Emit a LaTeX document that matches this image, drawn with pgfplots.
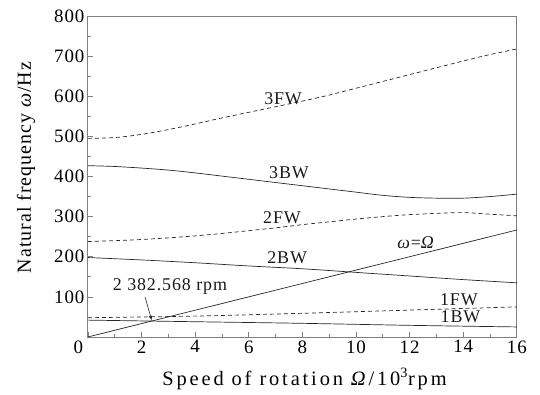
\documentclass[border=0pt]{standalone}
\usepackage{fontspec}
\setmainfont{Liberation Serif}
\newfontfamily\lsA[LetterSpace=5]{Liberation Serif}
\newfontfamily\lsB[LetterSpace=14]{Liberation Serif}
\usepackage{pgfplots}
\pgfplotsset{compat=1.18}
\tikzset{lab/.style={font=\lsA\fontsize{18}{21}\selectfont, black!90}}
\begin{document}
\begin{tikzpicture}
\begin{axis}[
 scale only axis, width=429bp, height=321bp,
 xmin=0,xmax=16,ymin=0,ymax=800,
 xtick={0,2,...,16}, ytick={100,200,...,800},
 xticklabels={\llap{0}\phantom{0},2,4,6,8,10,12,14,16},
 minor x tick num=1, minor y tick num=1,
 tick align=inside, xtick pos=bottom, ytick pos=left,
 major tick length=5bp, minor tick length=3bp,
 axis line style={black!50, line width=0.9pt},
 every tick/.style={black!50, line width=0.7pt},
 tick label style={font=\lsA\fontsize{19}{22}\selectfont},
 /pgf/number format/assume math mode=true,
 xlabel={Speed of rotation \textit{Ω}/10\textsuperscript{3}rpm},
 ylabel={Natural frequency \textit{ω}/Hz},
 xlabel style={font=\lsB\fontsize{20.5}{24}\selectfont, at={(ticklabel cs:0.505,8bp)}},
 ylabel style={font=\lsA\fontsize{20}{24}\selectfont, at={(ticklabel cs:0.528,12bp)}},
 clip=false,
 ln/.style={black!85, line width=0.7pt, smooth, no marks},
 dsh/.style={dash pattern=on 4bp off 3bp},
]
% 3FW
\addplot[ln,dsh] coordinates {(0,495)(1,497)(2,505)(3,517)(4,531)(5,546)(6,560)(7,574)(8,588)(9,603)(10,620)(11,637)(12,654)(13,671)(14,688)(15,704)(16,718)};
% 3BW
\addplot[ln] coordinates {(0,427)(1,425)(2,421)(3,416)(4,409)(5,401)(6,393)(7,385)(8,377)(9,369)(10,361)(11,353)(12,348)(13,346)(14,346)(15,350)(16,356)};
% 2FW
\addplot[ln,dsh] coordinates {(0,238)(1,240)(2,243)(3,247)(4,252)(5,258)(6,265)(7,272)(8,280)(9,287)(10,294)(11,300)(12,305)(13,308)(14,310)(15,306)(16,302)};
% 2BW
\addplot[ln] coordinates {(0,198)(2,192)(4,185)(6,177)(8,170)(10,161)(12,152)(14,143)(16,135)};
% 1FW
\addplot[ln,dsh] coordinates {(0,48)(4,52)(8,59)(12,67)(16,75)};
% 1BW
\addplot[ln] coordinates {(0,42)(4,38)(8,34)(12,29)(16,25)};
% omega = Omega
\addplot[ln, smooth=false] coordinates {(0,0)(16,266.7)};
\node[lab] at (axis cs:7.28,595) {3FW};
\node[lab] at (axis cs:7.5,410) {3BW};
\node[lab] at (axis cs:7.24,298) {2FW};
\node[lab] at (axis cs:7.43,197) {2BW};
\node[lab] at (axis cs:12.24,235) {\textit{ω}=\textit{Ω}};
\node[lab] at (axis cs:13.84,92) {1FW};
\node[lab] at (axis cs:13.9,50) {1BW};
\node[lab] at (axis cs:3.06,125) {2 382.568 rpm};
\draw[-latex, black!85, line width=0.6pt] (axis cs:2.13,100) -- (axis cs:2.38,41);
\coordinate (bl) at (axis description cs:-0.205,-0.18);
\coordinate (tr) at (axis description cs:1.054,1.05);
\end{axis}
\pgfresetboundingbox
\path[use as bounding box] (bl) rectangle (tr);
\end{tikzpicture}
\end{document}
